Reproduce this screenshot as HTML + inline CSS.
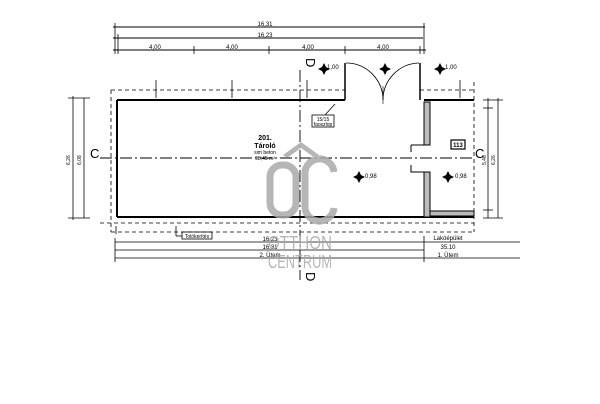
<!DOCTYPE html><html><head><style>body{margin:0;background:#fff}svg{display:block}text{font-family:"Liberation Sans",sans-serif}</style></head><body>
<svg width="600" height="404" viewBox="0 0 600 404" xmlns="http://www.w3.org/2000/svg">
<g stroke="#000" stroke-width="1" fill="none">
<line x1="113" y1="27" x2="425" y2="27"/><line x1="113" y1="38" x2="423" y2="38"/><line x1="113" y1="50" x2="426" y2="50"/>
<g stroke-width="0.8"><line x1="115" y1="23" x2="115" y2="54"/><line x1="118" y1="34" x2="118" y2="54"/><line x1="194" y1="46" x2="194" y2="54"/><line x1="269" y1="46" x2="269" y2="54"/><line x1="345" y1="46" x2="345" y2="54"/><line x1="420" y1="46" x2="420" y2="54"/><line x1="424" y1="23" x2="424" y2="54"/></g>
<g stroke-dasharray="4,3" stroke-width="0.8"><line x1="111" y1="90" x2="345" y2="90"/><line x1="420" y1="90" x2="474" y2="90"/><line x1="111" y1="90" x2="111" y2="232"/><line x1="474" y1="82" x2="474" y2="232"/><line x1="100" y1="223" x2="474" y2="223"/><line x1="111" y1="232" x2="474" y2="232"/></g>
<g stroke-width="2"><line x1="117" y1="100" x2="345" y2="100"/><line x1="117" y1="100" x2="117" y2="217"/><line x1="117" y1="217" x2="474" y2="217"/><line x1="424" y1="100" x2="474" y2="100"/></g>
<rect x="424" y="102" width="6" height="43" fill="#bbb" stroke-width="1"/><rect x="424" y="172" width="6" height="45" fill="#bbb" stroke-width="1"/>
<rect x="430" y="211" width="44" height="5" fill="#bbb"/>
<path d="M411 145 H424 M411 145 V152 M411 165 V172 H424" />
<path d="M346 63 A37 37 0 0 1 383 100" stroke-width="0.8"/><path d="M419 63 A37 37 0 0 0 383 100" stroke-width="0.8"/>
<line x1="383" y1="86" x2="383" y2="104" stroke-width="0.6"/>
<line x1="345" y1="63" x2="345" y2="100" stroke-width="1.5"/><line x1="420" y1="63" x2="420" y2="100" stroke-width="1.5"/>
<g stroke-dasharray="12,3,2,3" stroke-width="0.9"><line x1="300" y1="70" x2="300" y2="280"/><line x1="100" y1="158" x2="474" y2="158"/></g>
<g stroke-width="0.8"><line x1="73" y1="96" x2="73" y2="220"/><line x1="84" y1="98" x2="84" y2="218"/><line x1="68" y1="98" x2="90" y2="98"/><line x1="68" y1="218" x2="90" y2="218"/>
<line x1="488" y1="98" x2="488" y2="218"/><line x1="498" y1="98" x2="498" y2="218"/><line x1="483" y1="100" x2="503" y2="100"/><line x1="483" y1="108" x2="493" y2="108"/><line x1="483" y1="210" x2="493" y2="210"/><line x1="483" y1="218" x2="503" y2="218"/>
<line x1="115" y1="242" x2="424" y2="242"/><line x1="115" y1="250" x2="424" y2="250"/><line x1="115" y1="258" x2="424" y2="258"/><line x1="424" y1="242" x2="520" y2="242"/><line x1="424" y1="258" x2="520" y2="258"/><line x1="424" y1="236" x2="424" y2="262"/><line x1="115" y1="238" x2="115" y2="262"/>
<line x1="116" y1="226" x2="116" y2="234"/>
<line x1="176" y1="226" x2="176" y2="236"/><line x1="176" y1="236" x2="182" y2="236"/><line x1="335" y1="104" x2="325" y2="115"/></g>
<rect x="182" y="232" width="30" height="7" stroke-width="0.8"/><rect x="312" y="115" width="22" height="12" stroke-width="0.8"/>
<rect x="451" y="140" width="14" height="9" stroke-width="1.2"/>
<g stroke-width="0.8"><line x1="156" y1="80" x2="156" y2="98"/><line x1="232" y1="80" x2="232" y2="98"/><line x1="307" y1="80" x2="307" y2="98"/><line x1="460" y1="80" x2="460" y2="98"/></g>
</g>
<g font-size="6" fill="#000">
<text x="265" y="26" text-anchor="middle">16,31</text><text x="265" y="37" text-anchor="middle">16,23</text>
<text x="155" y="49" text-anchor="middle">4,00</text><text x="232" y="49" text-anchor="middle">4,00</text><text x="308" y="49" text-anchor="middle">4,00</text><text x="383" y="49" text-anchor="middle">4,00</text>
<text x="265" y="140" text-anchor="middle" font-weight="bold" font-size="7">201.</text><text x="265" y="148" text-anchor="middle" font-weight="bold" font-size="7">Tároló</text>
<text x="265" y="154" text-anchor="middle" font-size="5">sim beton</text><text x="265" y="160" text-anchor="middle" font-size="5">98,45 m²</text>
<text x="458" y="147" text-anchor="middle" font-weight="bold">113</text>
<text x="323" y="121" text-anchor="middle" font-size="5">15/15</text><text x="323" y="126" text-anchor="middle" font-size="5">faoszlop</text>
<text x="197" y="238" text-anchor="middle" font-size="5">Tolókerítés</text>
<text x="270" y="241" text-anchor="middle">16,23</text><text x="270" y="249" text-anchor="middle">16,31</text><text x="270" y="257" text-anchor="middle">2. Ütem</text>
<text x="448" y="240" text-anchor="middle">Lakóépület</text><text x="448" y="249" text-anchor="middle">35,10</text><text x="448" y="257" text-anchor="middle">1. Ütem</text>
<text x="327" y="69">1,00</text><text x="445" y="69">1,00</text><text x="365" y="178">0,98</text><text x="455" y="178">0,98</text>
</g>
<g font-family="Liberation Serif" font-size="13" fill="#000"><text x="90" y="158">C</text><text x="475" y="158">C</text>
<text transform="translate(306,58) rotate(90)">D</text><text transform="translate(306,272) rotate(90)">D</text></g>
<g fill="#000" font-size="5"><text transform="translate(70,165) rotate(-90)">6,26</text><text transform="translate(81,165) rotate(-90)">6,08</text><text transform="translate(495,165) rotate(-90)">6,26</text><text transform="translate(486,165) rotate(-90)">5,46</text></g>
<g fill="#000"><path d="M322 67 l2 -4 2 4 4 2 -4 2 -2 4 -2 -4 -4 -2z"/><path d="M383 67 l2 -4 2 4 4 2 -4 2 -2 4 -2 -4 -4 -2z"/><path d="M438 67 l2 -4 2 4 4 2 -4 2 -2 4 -2 -4 -4 -2z"/><path d="M357 175 l2 -4 2 4 4 2 -4 2 -2 4 -2 -4 -4 -2z"/><path d="M446 175 l2 -4 2 4 4 2 -4 2 -2 4 -2 -4 -4 -2z"/></g>
<g fill="#aaa" opacity="0.85">
<path d="M283 155 l18 -13 18 13 -4 3 -14 -10 -14 10z"/>
<rect x="270" y="165" width="26" height="50" rx="12" fill="none" stroke="#aaa" stroke-width="7"/>
<path d="M334 172 A13 13 0 0 0 305 175 V205 A13 13 0 0 0 334 208" fill="none" stroke="#aaa" stroke-width="7"/>
<text x="300" y="249" text-anchor="middle" font-size="18" textLength="64" lengthAdjust="spacingAndGlyphs">OTTHON</text>
<text x="300" y="268" text-anchor="middle" font-size="18" textLength="64" lengthAdjust="spacingAndGlyphs">CENTRUM</text></g>
</svg></body></html>
